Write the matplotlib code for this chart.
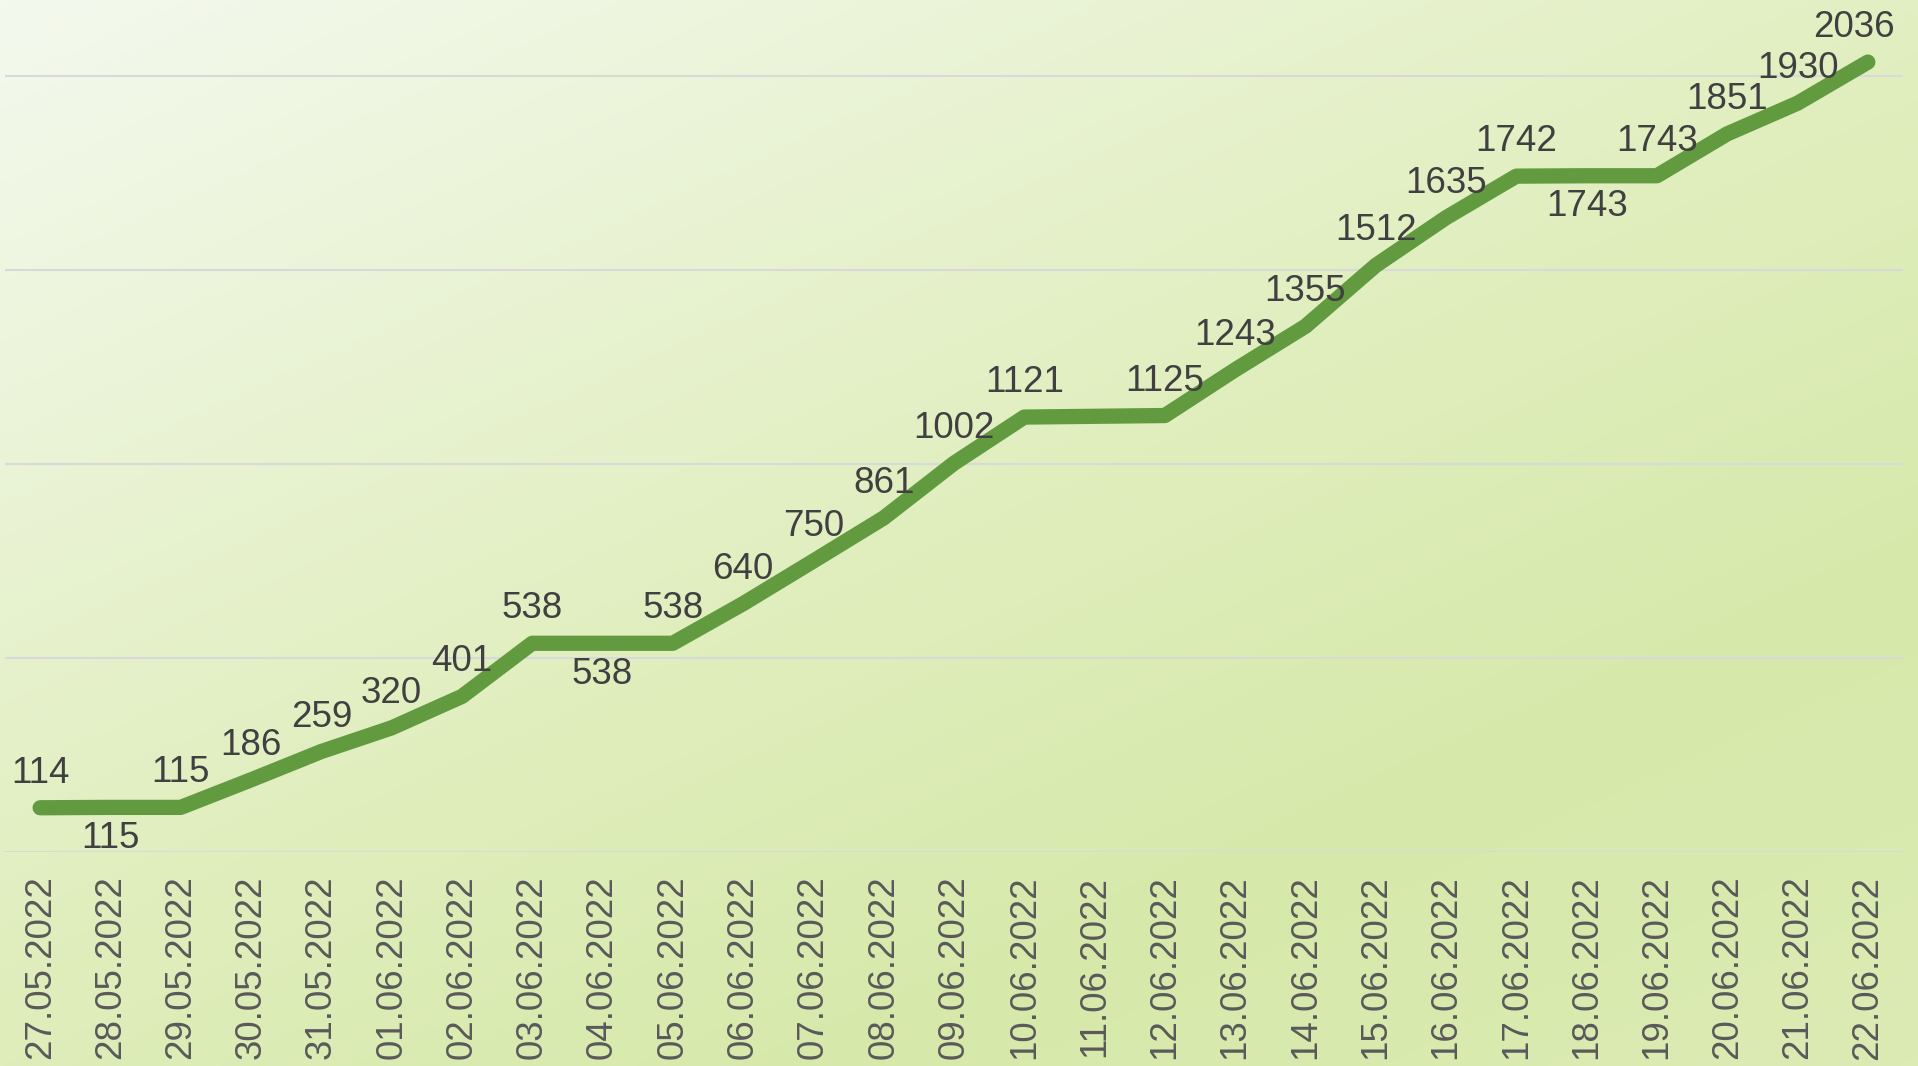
import numpy as np
import matplotlib
matplotlib.use("Agg")
import matplotlib.pyplot as plt
from matplotlib.colors import LinearSegmentedColormap

plt.rcParams['font.family'] = ['Liberation Sans', 'DejaVu Sans']

dates = ["27.05.2022", "28.05.2022", "29.05.2022", "30.05.2022", "31.05.2022",
         "01.06.2022", "02.06.2022", "03.06.2022", "04.06.2022", "05.06.2022",
         "06.06.2022", "07.06.2022", "08.06.2022", "09.06.2022", "10.06.2022",
         "11.06.2022", "12.06.2022", "13.06.2022", "14.06.2022", "15.06.2022",
         "16.06.2022", "17.06.2022", "18.06.2022", "19.06.2022", "20.06.2022",
         "21.06.2022", "22.06.2022"]
values = [114, 115, 115, 186, 259, 320, 401, 538, 538, 538, 640, 750, 861, 1002, 1121,
          None, 1125, 1243, 1355, 1512, 1635, 1742, 1743, 1743, 1851, 1930, 2036]
labels_below = ["28.05.2022", "04.06.2022", "18.06.2022"]
yticks = [0, 500, 1000, 1500, 2000]

W, H, DPI = 1918, 1066, 100
fig = plt.figure(figsize=(W / DPI, H / DPI), dpi=DPI)

# background gradient
bg = fig.add_axes([0, 0, 1, 1], zorder=-1)
bg.axis('off')
cmap = LinearSegmentedColormap.from_list(
    'bg', [(0.0, '#f4f9ee'), (0.5, '#e0eebd'), (0.75, '#d6e9aa'), (1.0, '#dcebb4')])
yy, xx = np.mgrid[0:1:300j, 0:1:500j]
t = 0.45 * xx + 0.55 * yy
bg.imshow(t, cmap=cmap, aspect='auto', extent=[0, 1, 1, 0], vmin=0, vmax=1)
bg.set_xlim(0, 1)
bg.set_ylim(1, 0)

ax = fig.add_axes([5 / W, (H - 852) / H, (1903 - 5) / W, 852 / H])
ax.set_facecolor('none')
ax.patch.set_alpha(0)

x = np.arange(len(dates))
xv = [i for i, v in zip(x, values) if v is not None]
yv = [v for v in values if v is not None]
ax.plot(xv, yv, color='#629b3f', lw=11, solid_capstyle='round', solid_joinstyle='round',
        zorder=3, clip_on=False)

last = len(dates) - 1
for i, v in zip(x, values):
    if v is None:
        continue
    if dates[i] in labels_below:
        off = -29
    else:
        off = 18
    dx = -10 if i == last else 0
    ax.annotate(str(v), (i, v), xytext=(dx, off), textcoords='offset points',
                ha='center', va='baseline', fontsize=26.5, color='#404040', zorder=4,
                annotation_clip=False)

ax.set_xlim(-0.5, len(dates) - 0.5)
ax.set_ylim(0, 2196)
ax.set_yticks(yticks)
ax.yaxis.grid(True, color='#d9d9d9', lw=1.5)
ax.set_axisbelow(True)
ax.tick_params(axis='y', left=False, labelleft=False)
ax.set_xticks(x)
ax.set_xticklabels(dates, rotation=90, fontsize=26.5, color='#595959')
ax.tick_params(axis='x', length=0, pad=17)
for s in ax.spines.values():
    s.set_visible(False)

fig.savefig('out.png', dpi=DPI)
